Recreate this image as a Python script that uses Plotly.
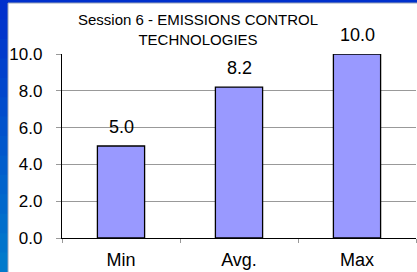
import plotly.graph_objects as go

categories = ["Min", "Avg.", "Max"]
values = [5.0, 8.2, 10.0]
value_labels = ["5.0", "8.2", "10.0"]
y_ticks = [0, 2, 4, 6, 8, 10]
y_tick_labels = ["0.0", "2.0", "4.0", "6.0", "8.0", "10.0"]
title_text = "Session 6 - EMISSIONS CONTROL<br>TECHNOLOGIES"

W, H = 417, 272
L, R, T, B = 62, 1, 54, 34
pw, ph = W - L - R, H - T - B

def px_to_paper_x(px):
    return (px - L) / pw

def px_to_paper_y(py):
    return (H - B - py) / ph

fig = go.Figure()
fig.add_trace(go.Bar(
    x=categories, y=values, width=0.4,
    marker=dict(color="#9999FF", line=dict(color="#000000", width=1.3)),
    hoverinfo="skip", cliponaxis=False,
))

font = "Liberation Sans, Arial, sans-serif"
annotations = []
for c, v, t in zip(categories, values, value_labels):
    annotations.append(dict(x=c, y=v, text=t, showarrow=False, yanchor="bottom",
                            yshift=7, font=dict(family=font, size=18, color="#000")))

# background: blue frame with gradient-like strips, white panel
shapes = []
n = 14
top_c = (0x00, 0x30, 0xCC)
bot_c = (0x00, 0x7A, 0xCC)
for i in range(n):
    f = i / (n - 1)
    col = "rgb(%d,%d,%d)" % tuple(int(a + (b - a) * f) for a, b in zip(top_c, bot_c))
    y0 = H * i / n
    y1 = H * (i + 1) / n + 1
    shapes.append(dict(type="rect", xref="paper", yref="paper", layer="below",
                       x0=px_to_paper_x(-1), x1=px_to_paper_x(W + 2),
                       y0=px_to_paper_y(y1), y1=px_to_paper_y(y0),
                       fillcolor=col, line=dict(width=0)))
shapes.append(dict(type="rect", xref="paper", yref="paper", layer="below",
                   x0=px_to_paper_x(8), x1=px_to_paper_x(W + 2),
                   y0=px_to_paper_y(H + 2), y1=px_to_paper_y(3),
                   fillcolor="#FFFFFF", line=dict(width=1, color="#9AA4B8")))

fig.update_layout(
    width=W, height=H,
    margin=dict(l=L, r=R, t=T, b=B, autoexpand=False),
    paper_bgcolor="#FFFFFF", plot_bgcolor="rgba(0,0,0,0)",
    showlegend=False,
    shapes=shapes,
    annotations=annotations,
    title=dict(text=title_text, x=198 / W, xanchor="center", xref="container",
               y=1 - 25 / H, yanchor="middle", yref="container",
               font=dict(family=font, size=15, color="#000")),
    xaxis=dict(showline=True, linecolor="#000", linewidth=1.3, automargin=False,
               ticks="outside", tickson="boundaries", ticklen=4, tickcolor="#999",
               tickfont=dict(family=font, size=18, color="#000"),
               ticklabelstandoff=5, showgrid=False),
    yaxis=dict(range=[0, 10], tickvals=y_ticks, ticktext=y_tick_labels,
               showline=True, linecolor="#000", linewidth=1.3, automargin=False,
               ticks="outside", ticklen=5, tickcolor="#999",
               showgrid=True, gridcolor="#999", gridwidth=1,
               tickfont=dict(family=font, size=17, color="#000"),
               ticklabelstandoff=10, zeroline=False),
    bargap=0.6,
)

fig.write_html("out.html", config={"displayModeBar": False},
               post_script="document.body.style.margin='0';document.body.style.overflow='hidden';")
